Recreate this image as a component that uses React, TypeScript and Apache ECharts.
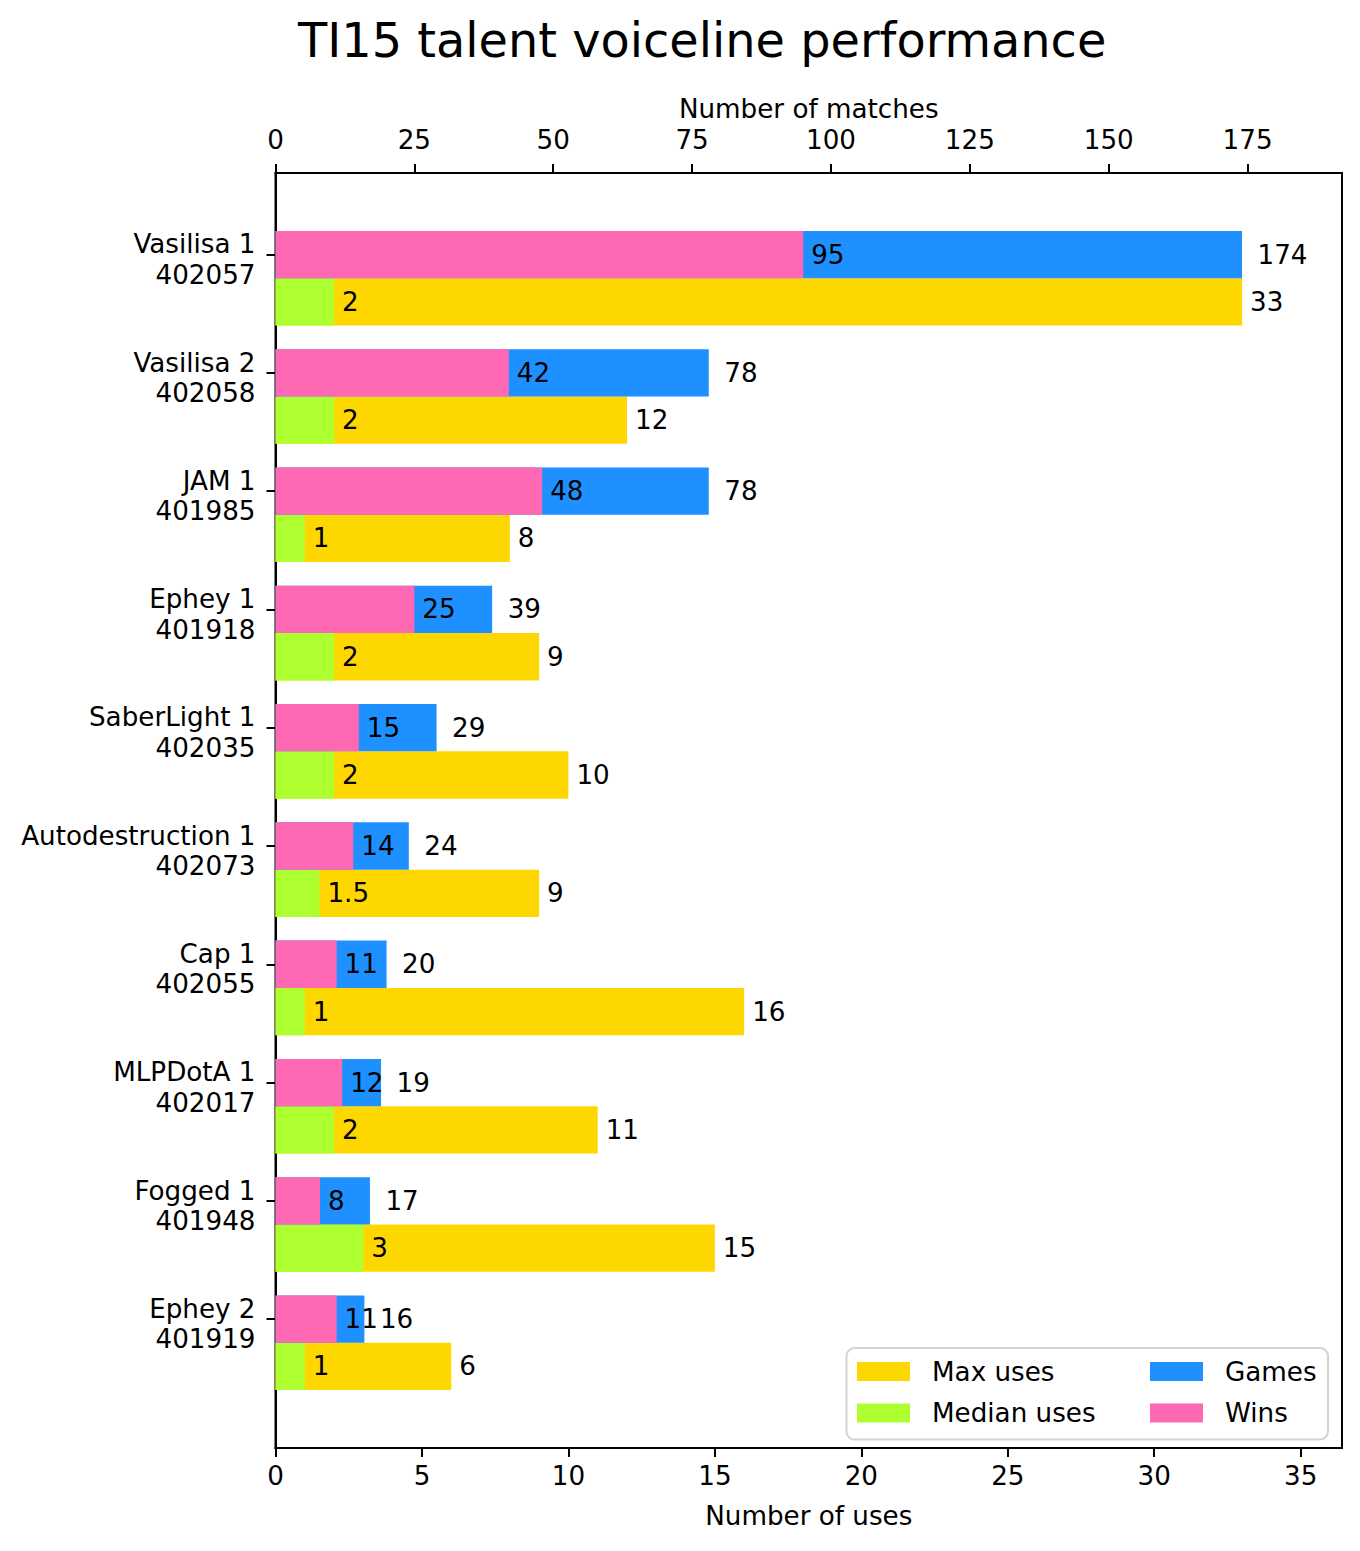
import React, { useEffect, useRef } from 'react';
import * as echarts from 'echarts';

const FONT = "'DejaVu Sans', 'Liberation Sans', sans-serif";
const FS = 26.2;

const names = ['Vasilisa 1', 'Vasilisa 2', 'JAM 1', 'Ephey 1', 'SaberLight 1', 'Autodestruction 1', 'Cap 1', 'MLPDotA 1', 'Fogged 1', 'Ephey 2'];
const ids = ['402057', '402058', '401985', '401918', '402035', '402073', '402055', '402017', '401948', '401919'];
const games = [174, 78, 78, 39, 29, 24, 20, 19, 17, 16];
const wins = [95, 42, 48, 25, 15, 14, 11, 12, 8, 11];
const maxUses = [33, 12, 8, 9, 10, 9, 16, 11, 15, 6];
const medianUses = [2, 2, 1, 2, 2, 1.5, 1, 2, 3, 1];
const usesTicks = [0, 5, 10, 15, 20, 25, 30, 35];
const matchTicks = [0, 25, 50, 75, 100, 125, 150, 175];
const yTicks = [0, 1, 2, 3, 4, 5, 6, 7, 8, 9];

const COLORS = {
  max: '#FFD700',
  median: '#ADFF2F',
  games: '#1E90FF',
  wins: '#FF69B4',
};

function makeRender(lo: number, hi: number, gap: number, color: string) {
  return (params: any, api: any) => {
    const v = api.value(0);
    const i = api.value(1);
    const p0 = api.coord([0, i + lo]);
    const p1 = api.coord([v, i + hi]);
    const y = Math.min(p0[1], p1[1]);
    const h = Math.abs(p1[1] - p0[1]);
    return {
      type: 'group',
      children: [
        {
          type: 'rect',
          shape: { x: p0[0], y, width: p1[0] - p0[0], height: h },
          style: { fill: color },
        },
        {
          type: 'text',
          x: p1[0] + gap,
          y: y + h / 2,
          style: {
            text: String(v),
            fill: '#000',
            fontSize: FS,
            fontFamily: FONT,
            align: 'left',
            verticalAlign: 'middle',
            textAlign: 'left',
            textVerticalAlign: 'middle',
          },
        },
      ],
    };
  };
}

const axisCommon = {
  type: 'value' as const,
  axisLine: { show: true, onZero: false, lineStyle: { color: '#000', width: 2 } },
  axisTick: { show: true, inside: false, length: 9, lineStyle: { color: '#000', width: 2 } },
  splitLine: { show: false },
  nameLocation: 'middle' as const,
  nameMoveOverlap: false,
  nameTextStyle: { fontSize: FS, fontFamily: FONT, color: '#000' },
};

export default function App() {
  const ref = useRef<HTMLDivElement>(null);
  useEffect(() => {
    const chart = echarts.init(ref.current as HTMLDivElement, null, { renderer: 'svg' });
    const option: any = {
      animation: false,
      backgroundColor: '#fff',
      title: {
        text: 'TI15 talent voiceline performance',
        left: 293,
        top: 11,
        textStyle: { fontSize: 47.8, fontWeight: 'normal', fontFamily: FONT, color: '#000' },
      },
      grid: {
        left: 275.5,
        top: 173,
        width: 1066.5,
        height: 1275,
        show: true,
        borderColor: '#000',
        borderWidth: 2,
        backgroundColor: 'transparent',
        containLabel: false,
        outerBoundsMode: 'none',
      },
      legend: [
        {
          orient: 'vertical',
          left: 857,
          top: 1356.5,
          padding: 0,
          itemWidth: 53,
          itemHeight: 19,
          itemGap: 11.5,
          icon: 'rect',
          selectedMode: false,
          data: ['Max uses', 'Median uses'],
          textStyle: { fontSize: FS, fontFamily: FONT, color: '#000', lineHeight: 30, padding: [0, 0, 0, 17] },
        },
        {
          orient: 'vertical',
          left: 1150,
          top: 1356.5,
          padding: 0,
          itemWidth: 53,
          itemHeight: 19,
          itemGap: 11.5,
          icon: 'rect',
          selectedMode: false,
          data: ['Games', 'Wins'],
          textStyle: { fontSize: FS, fontFamily: FONT, color: '#000', lineHeight: 30, padding: [0, 0, 0, 17] },
        },
      ],
      graphic: [
        {
          type: 'rect',
          z: -1,
          zlevel: 0,
          shape: { x: 846.5, y: 1348, width: 481.5, height: 91.5, r: 8 },
          style: { fill: 'rgba(255,255,255,0.8)', stroke: '#d3d3d3', lineWidth: 2 },
        },
      ],
      xAxis: [
        {
          ...axisCommon,
          position: 'bottom',
          min: 0,
          max: 36.41,
          name: 'Number of uses',
          nameGap: 55.3,
          axisTick: { ...axisCommon.axisTick, customValues: usesTicks },
          axisLabel: { customValues: usesTicks, fontSize: FS, fontFamily: FONT, color: '#000', margin: 15.4 },
        },
        {
          ...axisCommon,
          position: 'top',
          min: 0,
          max: 192,
          name: 'Number of matches',
          nameGap: 50.6,
          axisTick: { ...axisCommon.axisTick, customValues: matchTicks },
          axisLabel: { customValues: matchTicks, fontSize: FS, fontFamily: FONT, color: '#000', margin: 20.4 },
        },
      ],
      yAxis: {
        ...axisCommon,
        inverse: true,
        min: -0.69,
        max: 10.09,
        axisTick: { ...axisCommon.axisTick, customValues: yTicks },
        axisLabel: {
          // labels sit slightly below their tick, as matplotlib's center_baseline does
          customValues: yTicks.map((v) => v + 0.042),
          fontSize: FS,
          fontFamily: FONT,
          color: '#000',
          margin: 20,
          lineHeight: 30.5,
          align: 'right',
          formatter: (v: number) => {
            const i = Math.round(v);
            return `${names[i]}\n${ids[i]}`;
          },
        },
      },
      series: [
        {
          type: 'custom',
          name: 'Max uses',
          xAxisIndex: 0,
          itemStyle: { color: COLORS.max },
          renderItem: makeRender(0.2, 0.6, 8, COLORS.max),
          encode: { x: 0, y: 1 },
          data: maxUses.map((v, i) => [v, i]),
        },
        {
          type: 'custom',
          name: 'Median uses',
          xAxisIndex: 0,
          itemStyle: { color: COLORS.median },
          renderItem: makeRender(0.2, 0.6, 8, COLORS.median),
          encode: { x: 0, y: 1 },
          data: medianUses.map((v, i) => [v, i]),
        },
        {
          type: 'custom',
          name: 'Games',
          xAxisIndex: 1,
          itemStyle: { color: COLORS.games },
          renderItem: makeRender(-0.2, 0.2, 15.5, COLORS.games),
          encode: { x: 0, y: 1 },
          data: games.map((v, i) => [v, i]),
        },
        {
          type: 'custom',
          name: 'Wins',
          xAxisIndex: 1,
          itemStyle: { color: COLORS.wins },
          renderItem: makeRender(-0.2, 0.2, 8, COLORS.wins),
          encode: { x: 0, y: 1 },
          data: wins.map((v, i) => [v, i]),
        },
      ],
    };
    chart.setOption(option);
    return () => chart.dispose();
  }, []);
  return <div ref={ref} style={{ position: 'absolute', left: 0, top: 0, width: 1360, height: 1551 }} />;
}
